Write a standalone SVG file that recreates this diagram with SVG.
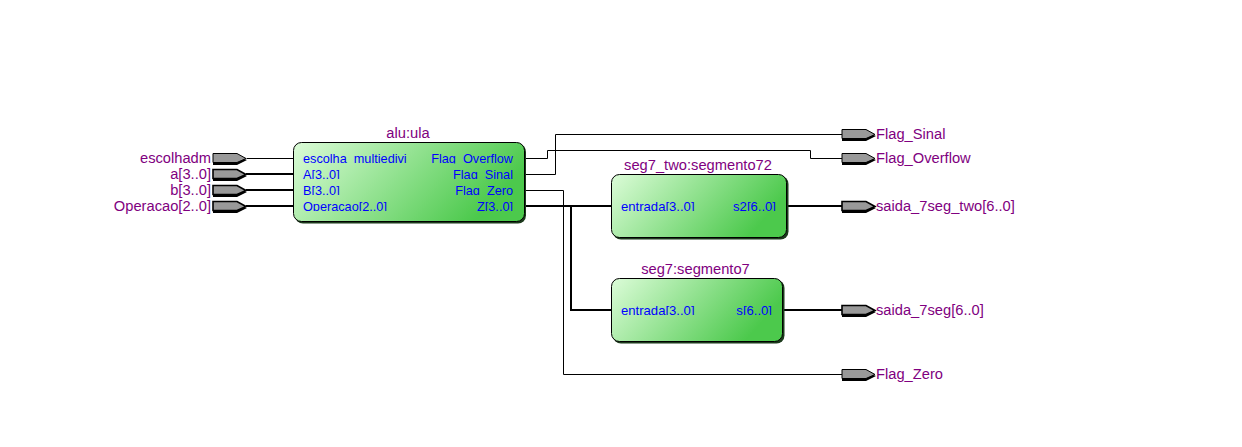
<svg xmlns="http://www.w3.org/2000/svg" width="1242" height="447" viewBox="0 0 1242 447">
<style>
text{font-family:"Liberation Sans",Arial,sans-serif}
.n{font-size:14.700px;fill:#800080}
.p{font-size:12.700px;fill:#0000ff}
.q{font-size:13.100px;fill:#0000ff}
.e{text-anchor:end}
.m{text-anchor:middle}
.w{fill:none;stroke:#000;stroke-width:1}
.b{fill:none;stroke:#000;stroke-width:2}
.pin{fill:#999;stroke:#000;stroke-width:1}
.pinb{fill:#999;stroke:#000;stroke-width:1.600}
.sh{fill:#000}
.bs{fill:#1c3a1c}
.box{stroke:#000;stroke-width:1}
</style>
<defs>
<linearGradient id="g" x1="0" y1="0" x2="1" y2="0.33"><stop offset="0" stop-color="#dcfcd8"/><stop offset="1" stop-color="#4cc94c"/></linearGradient>
<polygon id="shp" points="0,2 24,2 34,6 24,11 0,11" class="sh"/>
<polygon id="pn" points="0,-5 24,-5 33,0 24,4 0,4"/>
<clipPath id="rowsA"><rect x="295" y="150" width="228" height="13.500"/><rect x="295" y="166" width="228" height="13"/><rect x="295" y="182" width="228" height="13"/><rect x="295" y="198" width="228" height="13"/></clipPath>
<clipPath id="rowsB"><rect x="613" y="198" width="172" height="13"/></clipPath>
<clipPath id="rowsC"><rect x="613" y="302" width="168" height="13"/></clipPath>
</defs>
<rect width="1242" height="447" fill="#fff"/>
<g id="connectors">
<path class="w" d="M246.500 158.500H293"/>
<path class="b" d="M246 174H293M246 190H293M246 206H293"/>
<path class="w" d="M525 158.500H547.500V150.500H810.500V158.500H842"/>
<path class="w" d="M525 174.500H555.500V134.500H842"/>
<path class="w" d="M525 190.500H563.500V374.500H842"/>
<path class="b" d="M525 206H611M571 206V310H611"/>
<path class="b" d="M787 206H842"/>
<path class="b" d="M783 310H842"/>
</g>
<g id="in_escolhadm"><use href="#shp" x="213" y="154"/><use href="#pn" x="213" y="158.500" class="pin"/><text class="n e" x="211" y="163">escolhadm</text></g>
<g id="in_a"><use href="#shp" x="213" y="170"/><use href="#pn" x="213" y="174.500" class="pinb"/><text class="n e" x="211" y="179">a[3..0]</text></g>
<g id="in_b"><use href="#shp" x="213" y="186"/><use href="#pn" x="213" y="190.500" class="pinb"/><text class="n e" x="211" y="195">b[3..0]</text></g>
<g id="in_operacao"><use href="#shp" x="213" y="202"/><use href="#pn" x="213" y="206.500" class="pinb"/><text class="n e" x="211" y="211">Operacao[2..0]</text></g>
<g id="alu_ula">
<rect class="bs" x="295" y="144" width="231" height="79.500" rx="8"/>
<rect class="box" x="293.500" y="142.500" width="231" height="79" rx="8" fill="url(#g)"/>
<text class="n m" x="408" y="138">alu:ula</text>
<g clip-path="url(#rowsA)">
<text class="p" x="303" y="163">escolha_multiedivi</text>
<text class="p" x="303" y="178.500">A[3..0]</text>
<text class="p" x="303" y="194.500">B[3..0]</text>
<text class="p" x="303" y="210.500">Operacao[2..0]</text>
<text class="p e" x="513" y="163">Flag_Overflow</text>
<text class="p e" x="513" y="178.500">Flag_Sinal</text>
<text class="p e" x="513" y="194.500">Flag_Zero</text>
<text class="p e" x="513" y="210.500">Z[3..0]</text>
</g>
</g>
<g id="seg7_two">
<rect class="bs" x="613" y="176" width="175.500" height="63.500" rx="8"/>
<rect class="box" x="611.500" y="174.500" width="175" height="63" rx="8" fill="url(#g)"/>
<text class="n m" x="698" y="170">seg7_two:segmento72</text>
<g clip-path="url(#rowsB)">
<text class="q" x="621" y="210.500">entrada[3..0]</text>
<text class="q e" x="776" y="210.500">s2[6..0]</text>
</g>
</g>
<g id="seg7">
<rect class="bs" x="613" y="280" width="171.500" height="63.500" rx="8"/>
<rect class="box" x="611.500" y="278.500" width="171" height="63" rx="8" fill="url(#g)"/>
<text class="n m" x="695.500" y="274">seg7:segmento7</text>
<g clip-path="url(#rowsC)">
<text class="q" x="621" y="314.500">entrada[3..0]</text>
<text class="q e" x="772" y="314.500">s[6..0]</text>
</g>
</g>
<g id="out_sinal"><use href="#shp" x="842" y="130"/><use href="#pn" x="842" y="134.500" class="pin"/><text class="n" x="876" y="139">Flag_Sinal</text></g>
<g id="out_overflow"><use href="#shp" x="842" y="154"/><use href="#pn" x="842" y="158.500" class="pin"/><text class="n" x="876" y="163">Flag_Overflow</text></g>
<g id="out_seg_two"><use href="#shp" x="842" y="202"/><use href="#pn" x="842" y="206.500" class="pinb"/><text class="n" x="876" y="211">saida_7seg_two[6..0]</text></g>
<g id="out_seg"><use href="#shp" x="842" y="306"/><use href="#pn" x="842" y="310.500" class="pinb"/><text class="n" x="876" y="315">saida_7seg[6..0]</text></g>
<g id="out_zero"><use href="#shp" x="842" y="370"/><use href="#pn" x="842" y="374.500" class="pin"/><text class="n" x="876" y="379">Flag_Zero</text></g>
</svg>
